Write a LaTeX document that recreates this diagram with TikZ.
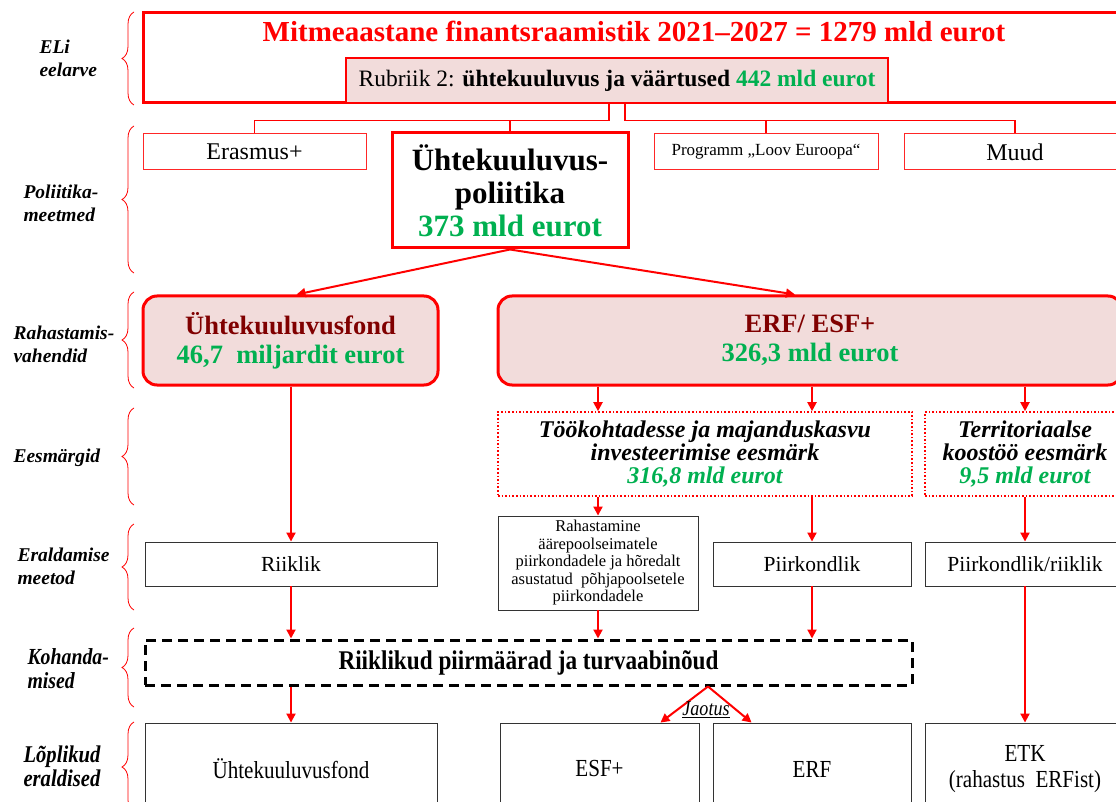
\documentclass[tikz,border=0pt]{standalone}
\usepackage{fontspec}
\setmainfont{Liberation Serif}
\newfontfamily\narrowfont[FakeStretch=0.86]{Liberation Serif}
\usepackage{tikz}
\usetikzlibrary{positioning,arrows.meta,decorations.pathreplacing,calc}
\definecolor{mfred}{RGB}{255,0,0}
\definecolor{pinkbg}{RGB}{242,220,219}
\definecolor{eurgreen}{RGB}{0,176,80}
\definecolor{fondred}{RGB}{128,0,0}

\begin{document}
\begin{tikzpicture}[x=1pt,y=-1pt]
  \tikzset{flow/.style={-{Triangle[length=9pt,width=9pt]}, mfred, line width=2pt}}
  \tikzset{tree/.style={mfred, line width=1.2pt}}
  \tikzset{levbrace/.style={decorate, decoration={brace,amplitude=12pt}, mfred, line width=0.8pt}}
  \tikzset{level/.style={anchor=west, align=left, font=\fontsize{19.5}{23}\selectfont\bfseries\itshape}}
  \tikzset{mffbox/.style={draw=mfred, line width=3pt, minimum width=982pt, minimum height=90pt}}
  \tikzset{rubbox/.style={draw=mfred, fill=pinkbg, line width=1.5pt, minimum width=542pt, minimum height=45pt, font=\fontsize{23.5}{26}\selectfont}}
  \tikzset{progbox/.style={draw=mfred!85, line width=1pt, minimum height=36pt, font=\fontsize{24}{26}\selectfont}}
  \tikzset{polbox/.style={draw=mfred, line width=3pt, minimum width=236pt, minimum height=115pt, align=center, font=\fontsize{31}{33}\selectfont\bfseries}}
  \tikzset{fondbox/.style={draw=mfred, fill=pinkbg, line width=3pt, rounded corners=14pt, minimum height=89pt, align=center, font=\fontsize{26.5}{29}\selectfont\bfseries}}
  \tikzset{goalbox/.style={draw=mfred, dotted, line width=1.6pt, minimum height=84pt, align=center, font=\fontsize{24}{23}\selectfont\bfseries\itshape}}
  \tikzset{methbox/.style={draw=black!80, line width=0.9pt, minimum height=44pt, align=center, font=\fontsize{21.5}{24}\selectfont}}
  \tikzset{adjbox/.style={draw=black, line width=3pt, dash pattern=on 10pt off 6pt, minimum width=767pt, minimum height=45pt, font=\narrowfont\fontsize{27}{30}\selectfont\bfseries}}
  \tikzset{finbox/.style={draw=black!80, line width=0.9pt, minimum height=92pt, align=center, font=\narrowfont\fontsize{24.5}{26}\selectfont}}

  \useasboundingbox (0,0) rectangle (1116,802);

  % tasemed
  \node[level] (lvEli) at (36,58) {ELi\\eelarve};
  \node[level] (lvPol) at (20,203) {Poliitika-\\meetmed};
  \node[level] (lvRah) at (10,344) {Rahastamis-\\vahendid};
  \node[level] (lvEes) at (10,458) {Eesmärgid};
  \node[level] (lvEra) at (14,566) {Eraldamise\\meetod};
  \node[level, font=\narrowfont\fontsize{23}{24}\selectfont\bfseries\itshape] (lvKoh) at (24,669) {Kohanda-\\mised};
  \node[level, font=\narrowfont\fontsize{24}{24}\selectfont\bfseries\itshape] (lvLop) at (20,766) {Lõplikud\\eraldised};
  \draw[levbrace] (134,105) -- (134,12);
  \draw[levbrace] (134,273) -- (134,126);
  \draw[levbrace] (134,388) -- (134,292);
  \draw[levbrace] (134,505) -- (134,408);
  \draw[levbrace] (134,610) -- (134,524);
  \draw[levbrace] (134,707) -- (134,628);
  \draw[levbrace] (134,812) -- (134,722);

  % eelarve
  \node[mffbox] (mff) at (634,58) {};
  \node[font=\fontsize{29}{32}\selectfont\bfseries, text=mfred] (mfftitle) at (634,31) {Mitmeaastane finantsraamistik 2021–2027 = 1279 mld eurot};
  \node[rubbox] (rub) at (617,80.5) {Rubriik 2: \textbf{ühtekuuluvus ja väärtused} \textcolor{eurgreen}{\textbf{442 mld eurot}}};

  % poliitikameetmed
  \node[progbox, minimum width=223pt] (eras) at (254.5,152) {Erasmus+};
  \node[polbox] (pol) at (510,190.5) {Ühtekuuluvus-\\poliitika\\\textcolor{eurgreen}{373 mld eurot}};
  \node[progbox, minimum width=224pt, font=\fontsize{17}{20}\selectfont] (prog) at (766,152) {Programm „Loov Euroopa“};
  \node[progbox, minimum width=222pt] (muud) at (1015,152) {Muud};

  \coordinate (lj) at ([xshift=-8pt,yshift=-17pt]rub.south);
  \coordinate (rj) at ([xshift=8pt,yshift=-17pt]rub.south);
  \draw[tree] (rub.south -| lj) -- (lj) -| (eras.north);
  \draw[tree, line width=2pt] (lj -| pol.north) -- (pol.north);
  \draw[tree] (rub.south -| rj) -- (rj) -| (muud.north);
  \draw[tree] (rj -| prog.north) -- (prog.north);

  % rahastamisvahendid
  \node[fondbox, minimum width=295pt] (ufond) at (290.5,340.5) {\textcolor{fondred}{Ühtekuuluvusfond}\\\textcolor{eurgreen}{46,7~ miljardit eurot}};
  \node[fondbox, minimum width=624pt] (erf) at (810,340.5) {\textcolor{fondred}{ERF/ ESF+}\\\textcolor{eurgreen}{326,3 mld eurot}};
  \draw[flow] (pol.south) -- ([xshift=6pt]ufond.north);
  \draw[flow] (pol.south) -- ([xshift=-15pt]erf.north);

  % eesmargid
  \node[goalbox, minimum width=414pt] (tkm) at (705,454) {Töökohtadesse ja majanduskasvu\\investeerimise eesmärk\\\textcolor{eurgreen}{316,8 mld eurot}};
  \node[goalbox, minimum width=200pt] (ter) at (1025,454) {Territoriaalse\\koostöö eesmärk\\\textcolor{eurgreen}{9,5 mld eurot}};

  % eraldamise meetodid
  \node[methbox, minimum width=292pt] (riik) at (291,564) {Riiklik};
  \node[methbox, minimum width=200pt, minimum height=94pt, font=\fontsize{16.5}{17.5}\selectfont] (rah) at (598,563) {Rahastamine\\äärepoolseimatele\\piirkondadele ja hõredalt\\asustatud~ põhjapoolsetele\\piirkondadele};
  \node[methbox, minimum width=198pt] (pk) at (812,564) {Piirkondlik};
  \node[methbox, minimum width=200pt] (pkr) at (1025,564) {Piirkondlik/riiklik};

  \draw[flow] (rah |- erf.south) -- (rah |- tkm.north);
  \draw[flow] (pk |- erf.south) -- (pk |- tkm.north);
  \draw[flow] (pkr |- erf.south) -- (pkr |- ter.north);
  \draw[flow] (ufond.south -| riik) -- (riik.north);
  \draw[flow] (tkm.south -| rah) -- (rah.north);
  \draw[flow] (tkm.south -| pk) -- (pk.north);
  \draw[flow] (ter.south -| pkr) -- (pkr.north);

  % kohandamised
  \node[adjbox] (adj) at (528.5,662.5) {Riiklikud piirmäärad ja turvaabinõud};
  \draw[flow] (riik.south) -- (riik |- adj.north);
  \draw[flow] (rah.south) -- (rah |- adj.north);
  \draw[flow] (pk.south) -- (pk |- adj.north);

  % loplikud eraldised
  \node[finbox, minimum width=292pt] (bu) at (291,769) {Ühtekuuluvusfond};
  \node[finbox, minimum width=199pt] (besf) at (599.5,769) {ESF+};
  \node[finbox, minimum width=198pt] (berf) at (812,769) {ERF};
  \node[finbox, minimum width=200pt] (betk) at (1025,769) {ETK\\(rahastus~ ERFist)};

  \coordinate (jt) at (adj.south -| 708,0);
  \draw[flow] (adj.south -| bu) -- (bu.north);
  \draw[flow] (jt) -- ([xshift=-39pt]besf.north east);
  \draw[flow] (jt) -- ([xshift=39pt]berf.north west);
  \node[font=\narrowfont\fontsize{21}{22}\selectfont\itshape] (jaot) at (706,710) {\underline{Jaotus}};
  \draw[flow] (pkr.south) -- (betk.north);
\end{tikzpicture}
\end{document}
